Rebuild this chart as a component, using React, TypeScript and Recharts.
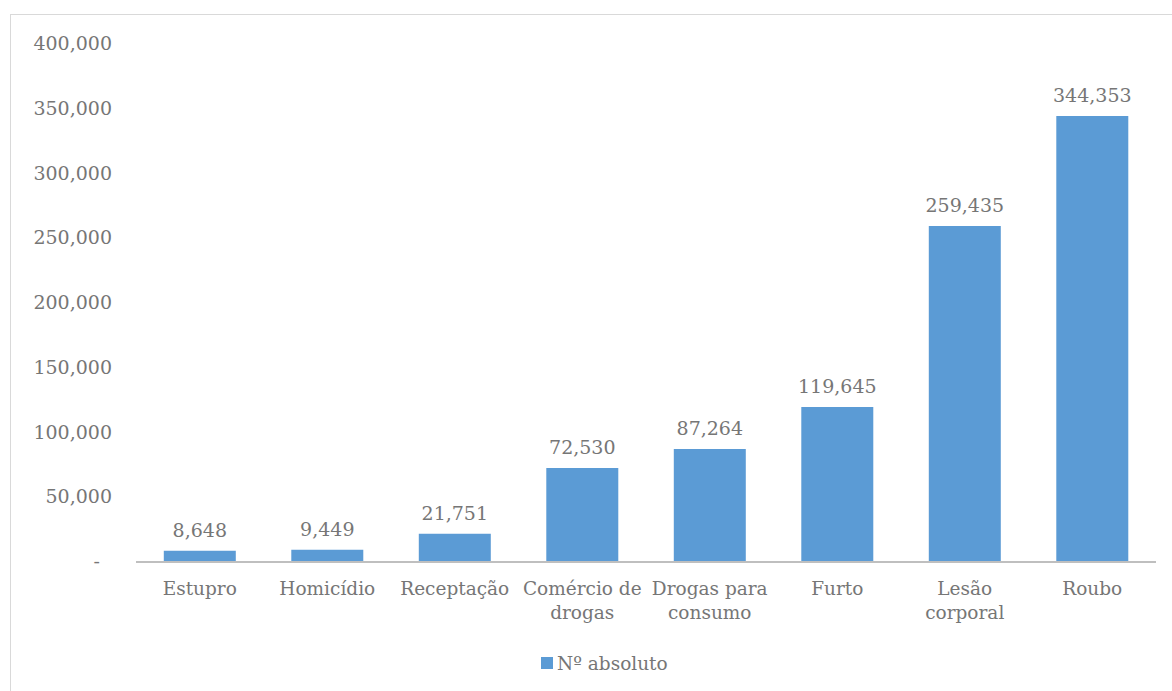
import { BarChart, Bar, XAxis, YAxis, Legend, LabelList } from 'recharts';

const categorias = [
  'Estupro',
  'Homicídio',
  'Receptação',
  'Comércio de drogas',
  'Drogas para consumo',
  'Furto',
  'Lesão corporal',
  'Roubo',
];
const numAbsoluto = [8648, 9449, 21751, 72530, 87264, 119645, 259435, 344353];
const yTicks = [0, 50000, 100000, 150000, 200000, 250000, 300000, 350000, 400000];

const data = categorias.map((c, i) => ({ categoria: c, valor: numAbsoluto[i] }));

const FONT = "'DejaVu Serif', serif";
const TEXT = '#767676';
const BLUE = '#5B9BD5';
const fmt = (v: number) => v.toLocaleString('en-US');

// quebra simples de palavras, como o Excel faz nos rótulos
const wrap = (s: string, max = 12) => {
  const lines: string[] = [];
  let cur = '';
  s.split(' ').forEach((w) => {
    const next = cur ? cur + ' ' + w : w;
    if (next.length > max && cur) {
      lines.push(cur);
      cur = w;
    } else {
      cur = next;
    }
  });
  if (cur) lines.push(cur);
  return lines;
};

const XTick = ({ x, y, payload }: any) => (
  <text x={x} y={y + 33} textAnchor="middle" fill={TEXT} fontSize={18.5} fontFamily={FONT}>
    {wrap(payload.value).map((l, i) => (
      <tspan key={i} x={x} dy={i === 0 ? 0 : 24}>{l}</tspan>
    ))}
  </text>
);

const YTick = ({ x, y, payload }: any) => (
  <text
    x={payload.value === 0 ? x - 12 : x}
    y={y}
    dy={6}
    textAnchor="end"
    fill={TEXT}
    fontSize={19}
    fontFamily={FONT}
  >
    {payload.value === 0 ? '-' : fmt(payload.value)}
  </text>
);

const LegendContent = () => (
  <div style={{ display: 'flex', alignItems: 'center', height: 20, fontFamily: FONT, fontSize: 18.5, color: TEXT }}>
    <span style={{ width: 12, height: 12, background: BLUE, marginRight: 4, display: 'inline-block' }} />
    <span>Nº absoluto</span>
  </div>
);

export default function App() {
  return (
    <div style={{ position: 'fixed', left: 0, top: 0, width: 1172, height: 691, overflow: 'hidden', background: '#fff' }}>
      <div
        style={{
          position: 'absolute',
          left: 10,
          top: 14,
          width: 1200,
          height: 700,
          border: '1px solid #d9d9d9',
          fontFamily: FONT,
        }}
      >
        <BarChart
          width={1161}
          height={676}
          data={data}
          margin={{ top: 29, right: 16, left: 0, bottom: 49 }}
          barCategoryGap="21.8%"
        >
          <XAxis
            dataKey="categoria"
            axisLine={{ stroke: '#bfbfbf', strokeWidth: 2 }}
            tickLine={false}
            tickSize={0}
            tickMargin={0}
            height={60}
            interval={0}
            tick={<XTick />}
          />
          <YAxis
            width={125}
            domain={[0, 400000]}
            ticks={yTicks}
            axisLine={false}
            tickLine={false}
            tickSize={0}
            tickMargin={24}
            tick={<YTick />}
          />
          <Legend
            content={<LegendContent />}
            wrapperStyle={{ left: 530, top: 638, width: 200, bottom: 'auto' }}
          />
          <Bar dataKey="valor" name="Nº absoluto" fill={BLUE} isAnimationActive={false}>
            <LabelList
              dataKey="valor"
              position="top"
              offset={14}
              formatter={(v: any) => fmt(Number(v))}
              fill={TEXT}
              fontSize={19}
              fontFamily={FONT}
            />
          </Bar>
        </BarChart>
      </div>
    </div>
  );
}
